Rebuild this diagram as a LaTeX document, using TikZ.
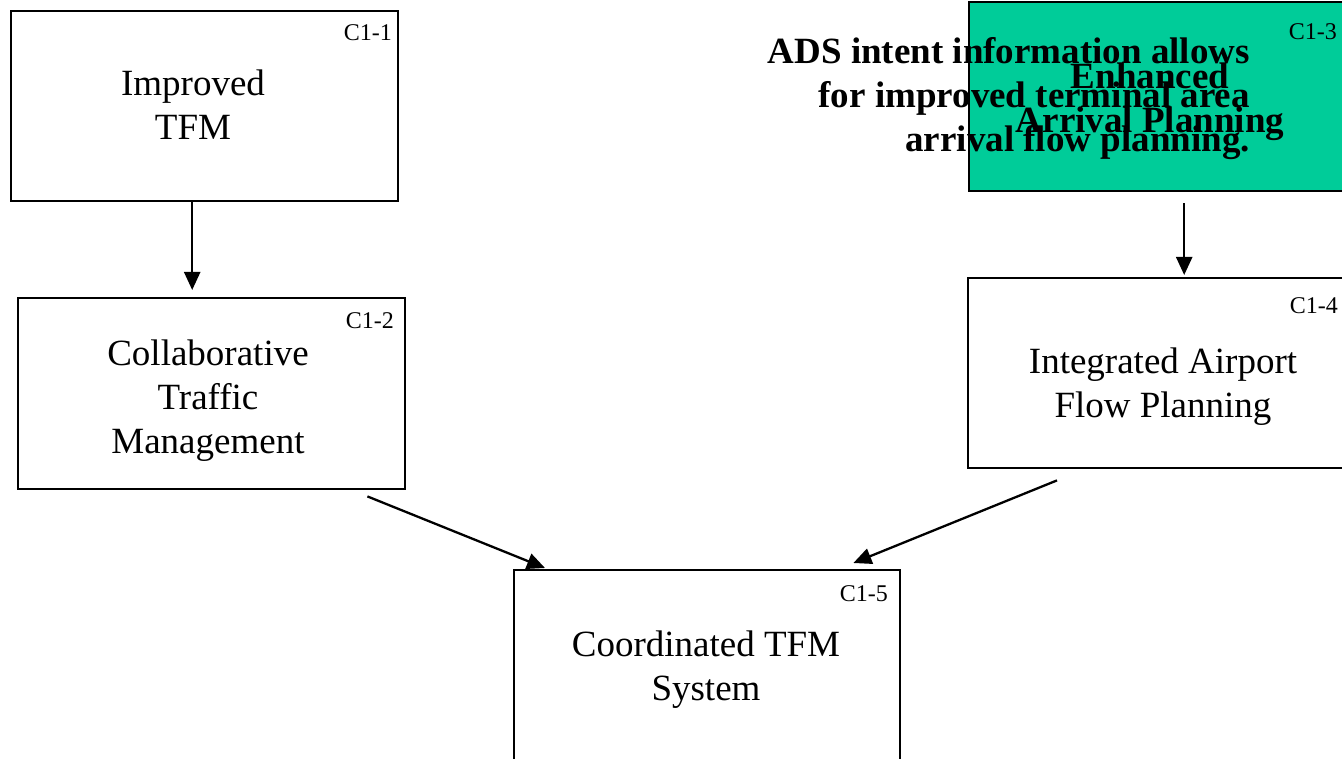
\documentclass[tikz,border=0pt]{standalone}
\usepackage{fontspec}
\setmainfont{Liberation Serif}
\usetikzlibrary{arrows.meta}
\definecolor{grn}{HTML}{00CC99}
\begin{document}
\begin{tikzpicture}[x=1pt,y=-1pt,
  box/.style={draw=black, line width=2.4pt, inner sep=0pt, anchor=north west},
  txt/.style={font=\fontsize{37}{44}\selectfont, align=center, inner sep=0pt},
  btxt/.style={font=\fontsize{37}{44}\selectfont\bfseries, inner sep=0pt},
  tag/.style={font=\fontsize{24}{28}\selectfont, inner sep=0pt, anchor=base east},
  arr/.style={line width=2.3pt, -{Triangle[length=18pt,width=16pt]}}]
\useasboundingbox (0,0) rectangle (1342,759);
\clip (0,0) rectangle (1342,759);
% boxes
\node[box, minimum width=387pt, minimum height=190pt] (b1) at (10,10) {};
\node[box, minimum width=387pt, minimum height=191pt] (b2) at (17,297) {};
\node[box, fill=grn, minimum width=400pt, minimum height=189pt] (b3) at (968,1) {};
\node[box, minimum width=400pt, minimum height=190pt] (b4) at (967,277) {};
\node[box, minimum width=386pt, minimum height=250pt] (b5) at (513,569) {};
% texts
\node[txt] (t1) at (193,105) {Improved\\TFM};
\node[txt] (t2) at (208,401) {Collaborative\\Traffic\\Management};
\node[btxt, align=center] (t3) at (1150,102) {Enhanced\\Arrival Planning};
\node[txt] (t4) at (1163,387) {Integrated Airport\\Flow Planning};
\node[txt] (t5) at (706,670) {Coordinated TFM\\System};
\node[btxt, align=right, anchor=east] (ads) at (1250,99) {ADS intent information allows\\for improved terminal area\\arrival flow planning.};
% tags
\node[tag] (c1) at (392,41) {C1-1};
\node[tag] (c2) at (394,329) {C1-2};
\node[tag] (c3) at (1337,40) {C1-3};
\node[tag] (c4) at (1338,314) {C1-4};
\node[tag] (c5) at (888,601) {C1-5};
% connectors
\draw[arr] ([xshift=-12.5pt]b1.south) -- ([xshift=-19.5pt,yshift=7pt]b2.north);
\draw[arr] ([xshift=15pt,yshift=-11pt]b3.south) -- ([xshift=16pt,yshift=2pt]b4.north);
\draw[arr] ([xshift=-39pt,yshift=-6pt]b2.south east) -- ([xshift=32pt,yshift=1pt]b5.north west);
\draw[arr] ([xshift=90pt,yshift=-11pt]b4.south west) -- ([xshift=-48pt,yshift=6pt]b5.north east);
\end{tikzpicture}
\end{document}
